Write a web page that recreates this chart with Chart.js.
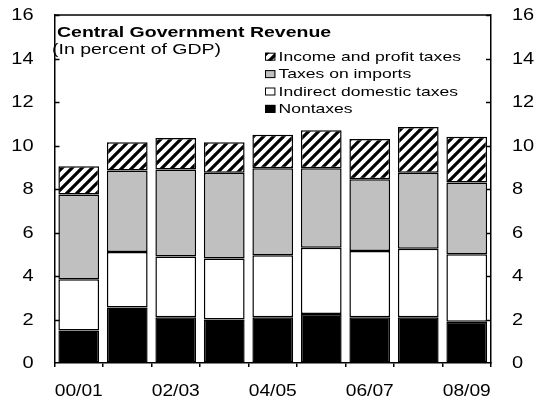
<!DOCTYPE html>
<html>
<head>
<meta charset="utf-8">
<script src="https://cdn.jsdelivr.net/npm/chart.js@4.4.0/dist/chart.umd.min.js"></script>
<style>
  html, body { margin: 0; padding: 0; background: #fff; }
  #wrap { width: 541px; height: 401px; }
</style>
</head>
<body>
<div id="wrap"><canvas id="revenueChart" width="541" height="401"></canvas></div>
<script>
// Central government revenue by fiscal year, percent of GDP
const years = ['00/01', '01/02', '02/03', '03/04', '04/05', '05/06', '06/07', '07/08', '08/09'];
const nontaxes = [1.5, 2.55, 2.1, 2.0, 2.1, 2.25, 2.1, 2.1, 1.9];
const indirectTaxes = [2.35, 2.55, 2.8, 2.8, 2.85, 3.05, 3.05, 3.15, 3.1];
const importTaxes = [3.9, 3.75, 4.0, 3.95, 4.0, 3.65, 3.3, 3.5, 3.3];
const incomeTaxes = [1.3, 1.3, 1.45, 1.4, 1.55, 1.75, 1.85, 2.1, 2.1];
const yTicks = [0, 2, 4, 6, 8, 10, 12, 14, 16];

const FONT = '"Liberation Sans", Arial, sans-serif';
const STRETCH = 1.3;

const canvas = document.getElementById('revenueChart');

// diagonal "/" stripes for the income tax segments
function makeHatch(ctx) {
    const size = 10;
    const tile = document.createElement('canvas');
    tile.width = size;
    tile.height = size;
    const g = tile.getContext('2d');
    g.fillStyle = '#fff';
    g.fillRect(0, 0, size, size);
    g.strokeStyle = '#000';
    g.lineWidth = 3.2;
    g.beginPath();
    g.moveTo(-size / 2, size / 2); g.lineTo(size / 2, -size / 2);
    g.moveTo(0, size); g.lineTo(size, 0);
    g.moveTo(size / 2, size * 1.5); g.lineTo(size * 1.5, size / 2);
    g.stroke();
    return ctx.createPattern(tile, 'repeat');
}

const hatch = makeHatch(canvas.getContext('2d'));

// text is drawn slightly widened, like the rest of the graphic
function wideText(ctx, text, x, y, font, align, sx) {
    ctx.save();
    ctx.font = font;
    ctx.textAlign = align || 'left';
    ctx.translate(x, y);
    ctx.scale(sx || STRETCH, 1);
    ctx.fillText(text, 0, 0);
    ctx.restore();
}

const decorPlugin = {
    id: 'decor',
    afterDraw(chart) {
        const { ctx, chartArea: area, scales } = chart;
        ctx.save();
        ctx.strokeStyle = '#000';
        ctx.fillStyle = '#000';
        ctx.lineWidth = 1.5;

        // top edge of the frame
        ctx.beginPath();
        ctx.moveTo(area.left, area.top);
        ctx.lineTo(area.right, area.top);
        ctx.stroke();

        // inward tick marks on both value axes
        ctx.beginPath();
        yTicks.forEach(v => {
            if (v === 0) return;
            const y = Math.round(scales.y.getPixelForValue(v)) + 0.5;
            ctx.moveTo(area.left, y); ctx.lineTo(area.left + 5, y);
            ctx.moveTo(area.right - 5, y); ctx.lineTo(area.right, y);
        });
        ctx.stroke();

        // value labels
        ctx.textBaseline = 'middle';
        yTicks.forEach(v => {
            const y = scales.y.getPixelForValue(v) + 1;
            wideText(ctx, String(v), area.left - 21, y, '16px ' + FONT, 'right', 1.25);
            wideText(ctx, String(v), area.right + 21, y, '16px ' + FONT, 'left', 1.25);
        });

        // every other fiscal year under the bars
        ctx.textBaseline = 'alphabetic';
        years.forEach((label, i) => {
            if (i % 2 !== 0) return;
            const x = scales.x.getPixelForValue(i);
            wideText(ctx, label, x, 395.5, '16px ' + FONT, 'center', 1.2);
        });

        // title block
        wideText(ctx, 'Central Government Revenue', 57, 37, 'bold 15px ' + FONT);
        wideText(ctx, '(In percent of GDP)', 52, 53.5, '15px ' + FONT);

        // legend, top series first
        const items = chart.data.datasets.slice().reverse();
        items.forEach((ds, i) => {
            const base = 60.7 + i * 17.4;
            ctx.fillStyle = ds.backgroundColor;
            ctx.fillRect(265, base - 8, 10.4, 8);
            ctx.lineWidth = 1;
            ctx.strokeRect(265.5, base - 7.5, 9.4, 7);
            ctx.fillStyle = '#000';
            wideText(ctx, ds.label, 278.5, base, '13.5px ' + FONT);
        });
        ctx.restore();
    }
};

new Chart(canvas, {
    type: 'bar',
    data: {
        labels: years,
        datasets: [{
            label: 'Nontaxes',
            data: nontaxes,
            backgroundColor: '#000'
        }, {
            label: 'Indirect domestic taxes',
            data: indirectTaxes,
            backgroundColor: '#fff'
        }, {
            label: 'Taxes on imports',
            data: importTaxes,
            backgroundColor: '#c0c0c0'
        }, {
            label: 'Income and profit taxes',
            data: incomeTaxes,
            backgroundColor: hatch
        }].map(ds => Object.assign(ds, {
            borderColor: '#000',
            borderWidth: 1.5,
            borderSkipped: false,
            barPercentage: 0.84,
            categoryPercentage: 1
        }))
    },
    options: {
        responsive: false,
        animation: false,
        layout: { padding: { top: 15, left: 0, right: 0, bottom: 0 } },
        plugins: {
            legend: { display: false },
            tooltip: { enabled: false }
        },
        scales: {
            x: {
                stacked: true,
                grid: {
                    offset: true,
                    drawOnChartArea: false,
                    drawTicks: true,
                    tickLength: 4,
                    color: '#000',
                    lineWidth: 1.5
                },
                border: { display: true, color: '#000', width: 1.5 },
                ticks: { display: false, autoSkip: false },
                afterFit: scale => { scale.height = 38; }
            },
            y: {
                stacked: true,
                min: 0,
                max: 16,
                ticks: { display: false, stepSize: 2 },
                grid: { drawOnChartArea: false, drawTicks: false },
                border: { display: true, color: '#000', width: 1.5 },
                afterFit: scale => { scale.width = 54.5; }
            },
            y2: {
                position: 'right',
                min: 0,
                max: 16,
                ticks: { display: false, stepSize: 2 },
                grid: { drawOnChartArea: false, drawTicks: false },
                border: { display: true, color: '#000', width: 1.5 },
                afterFit: scale => { scale.width = 50; }
            }
        }
    },
    plugins: [decorPlugin]
});
</script>
</body>
</html>
